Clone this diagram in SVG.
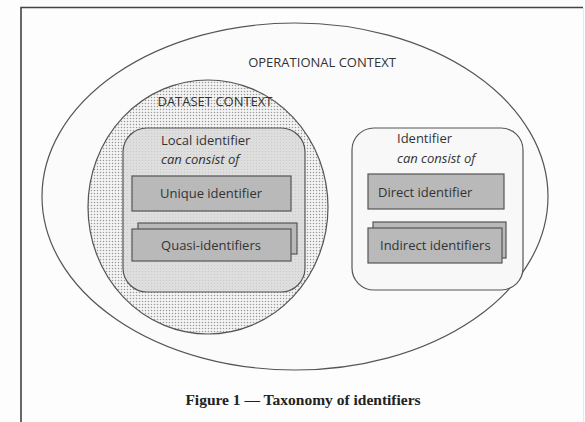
<svg xmlns="http://www.w3.org/2000/svg" width="585" height="422" viewBox="0 0 585 422">
<defs>
<pattern id="dots" width="3" height="3" patternUnits="userSpaceOnUse">
<rect width="3" height="3" fill="#f4f4f4"/>
<circle cx="1.5" cy="1.5" r="0.75" fill="#999"/>
</pattern>
<pattern id="dots2" width="3" height="3" patternUnits="userSpaceOnUse">
<rect width="3" height="3" fill="#dedede"/>
<circle cx="1.5" cy="1.5" r="0.6" fill="#c8c8c8"/>
</pattern>
<style>
.grp{stroke:#555;stroke-width:1.2}
.box{fill:#b9b9b9;stroke:#555;stroke-width:1.2}
.t{font-family:"Open Sans","Liberation Sans",sans-serif;font-size:13px;fill:#333}
.i{font-style:italic}
.cap{font-family:"Liberation Serif",serif;font-weight:bold;font-size:15.5px;fill:#222}
</style>
</defs>
<rect width="585" height="422" fill="#fdfdfd"/>
<path d="M21 422 V7.5 H583" fill="none" stroke="#444" stroke-width="1.6"/>
<line x1="583.5" y1="8" x2="583.5" y2="422" stroke="#e8e8e8" stroke-width="1"/>
<g id="operational-context">
<ellipse cx="295" cy="196.5" rx="253" ry="173.5" fill="#fbfbfb" stroke="#555" stroke-width="1.2"/>
<text class="t" x="322" y="67" text-anchor="middle">OPERATIONAL CONTEXT</text>
</g>
<g id="dataset-context">
<ellipse cx="208" cy="207" rx="120" ry="127" fill="url(#dots)" stroke="#555" stroke-width="1.2"/>
<text class="t" x="215" y="106" text-anchor="middle">DATASET CONTEXT</text>
</g>
<g id="local-identifier">
<rect class="grp" x="123" y="128" width="182" height="164" rx="24" fill="url(#dots2)"/>
<text class="t" x="161" y="145">Local identifier</text>
<text class="t i" x="161" y="164">can consist of</text>
</g>
<g id="unique-identifier">
<rect class="box" x="132" y="176" width="159" height="35"/>
<text class="t" x="211" y="198" text-anchor="middle">Unique identifier</text>
</g>
<g id="quasi-identifiers">
<rect class="box" x="138" y="223" width="159" height="31"/>
<rect class="box" x="132" y="229" width="159" height="32"/>
<text class="t" x="211" y="250" text-anchor="middle">Quasi-identifiers</text>
</g>
<g id="identifier">
<rect class="grp" x="352" y="128" width="171" height="162" rx="22" fill="#f8f8f8"/>
<text class="t" x="397" y="143">Identifier</text>
<text class="t i" x="397" y="163">can consist of</text>
</g>
<g id="direct-identifier">
<rect class="box" x="368" y="174" width="136" height="35"/>
<text class="t" x="378" y="197">Direct identifier</text>
</g>
<g id="indirect-identifiers">
<rect class="box" x="373" y="222" width="133" height="36"/>
<rect class="box" x="368" y="228" width="134" height="35"/>
<text class="t" x="380" y="250">Indirect identifiers</text>
</g>
<g id="connectors"></g>
<text class="cap" x="303" y="405" text-anchor="middle">Figure 1 — Taxonomy of identifiers</text>
</svg>
